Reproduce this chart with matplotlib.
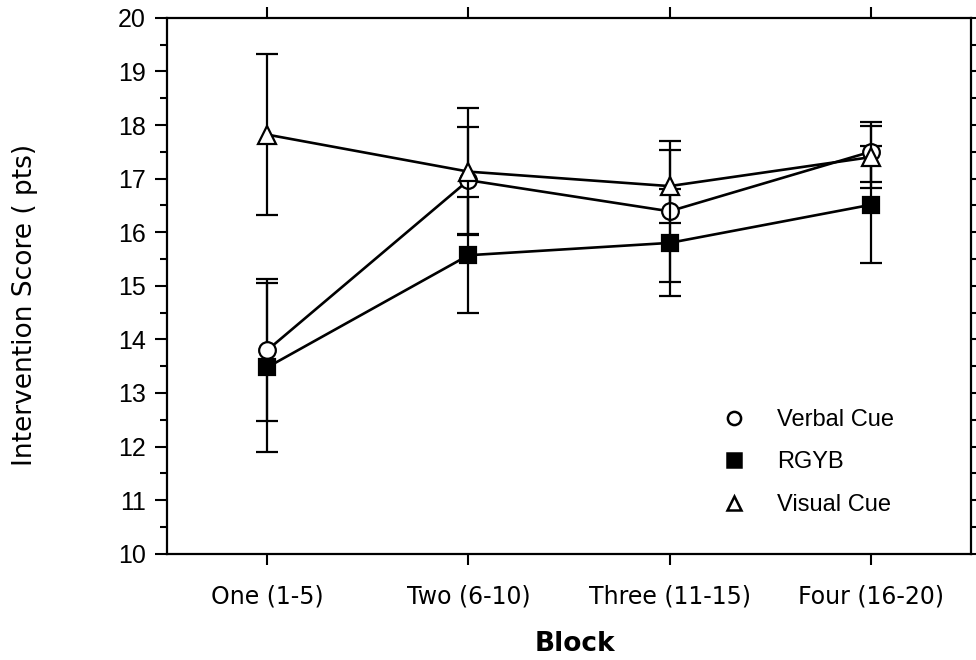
import matplotlib
matplotlib.use("Agg")
import matplotlib.pyplot as plt
from matplotlib.lines import Line2D
from matplotlib.ticker import MultipleLocator

blocks = ["One (1-5)", "Two (6-10)", "Three (11-15)", "Four (16-20)"]
verbal = [13.80, 16.97, 16.39, 17.50]
verbal_err = [1.33, 1.00, 1.32, 0.56]
rgyb = [13.48, 15.57, 15.80, 16.51]
rgyb_err = [1.58, 1.08, 1.00, 1.09]
visual = [17.82, 17.13, 16.86, 17.40]
visual_err = [1.50, 1.18, 0.68, 0.58]
series_names = ["Verbal Cue", "RGYB", "Visual Cue"]

plt.rcParams["font.family"] = ["Liberation Sans", "DejaVu Sans"]

fig = plt.figure(figsize=(9.76, 6.6), dpi=100)
ax = fig.add_axes([0.171, 0.161, 0.824, 0.812])

x = list(range(1, len(blocks) + 1))
common = dict(color="black", lw=1.9, elinewidth=1.6, capsize=8, capthick=1.6,
              markeredgewidth=1.6, markeredgecolor="black")
ax.errorbar(x, verbal, yerr=verbal_err, marker="o", ms=12, mfc="white", zorder=3, **common)
ax.errorbar(x, rgyb, yerr=rgyb_err, marker="s", ms=12, mfc="black", zorder=3, **common)
ax.errorbar(x, visual, yerr=visual_err, marker="^", ms=13, mfc="white", zorder=4, **common)

ax.set_xlim(0.5, 4.5)
ax.set_ylim(10, 20)
ax.set_xticks(x)
ax.set_xticklabels(blocks, fontsize=17, family="DejaVu Sans")
ax.yaxis.set_major_locator(MultipleLocator(1))
ax.yaxis.set_minor_locator(MultipleLocator(0.5))
for lab in ax.get_yticklabels():
    lab.set_fontsize(18)

for s in ax.spines.values():
    s.set_linewidth(1.6)

ax.tick_params(axis="x", which="major", direction="out", length=8, width=1.5,
               top=True, bottom=True, pad=14)
ax.tick_params(axis="y", which="major", direction="out", length=9, width=1.5,
               left=True, right=False, pad=6)
ax.tick_params(axis="y", which="minor", direction="out", length=5, width=1.5,
               left=True, right=False)

# short ticks along the right edge at every half point
rax = ax.twinx()
rax.set_ylim(ax.get_ylim())
rax.yaxis.set_major_locator(MultipleLocator(0.5))
rax.tick_params(axis="y", direction="out", length=4, width=1.5, labelright=False)
for s in rax.spines.values():
    s.set_visible(False)

fig.text(0.589, 1 - 644 / 660, "Block", fontsize=19, fontweight="bold",
         family="DejaVu Sans", ha="center", va="center")
fig.text(25 / 976, 1 - 305 / 660, "Intervention Score ( pts)", fontsize=19,
         family="DejaVu Sans", rotation=90, ha="center", va="center")

handles = [
    Line2D([], [], ls="none", marker="o", ms=9.5, mfc="white", mec="black", mew=1.8),
    Line2D([], [], ls="none", marker="s", ms=9.5, mfc="black", mec="black", mew=1.8),
    Line2D([], [], ls="none", marker="^", ms=9.5, mfc="white", mec="black", mew=1.8),
]
ax.legend(handles, series_names, loc="upper left", bbox_to_anchor=(0.728, 1 - 397 / 660),
          bbox_transform=fig.transFigure, frameon=False,
          fontsize=17, handlelength=1.0, handletextpad=1.33,
          labelspacing=0.87, borderpad=0)

fig.savefig("out.png", dpi=100)
